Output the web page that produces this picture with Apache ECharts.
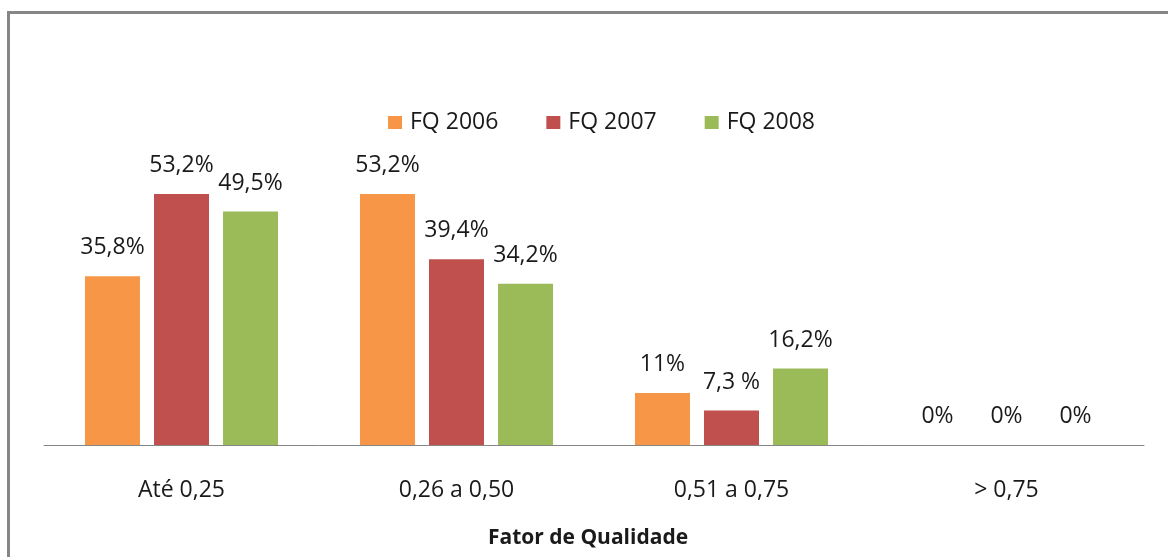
<!DOCTYPE html>
<html>
<head>
<meta charset="utf-8">
<style>
    html, body { margin: 0; padding: 0; background: #fff; }
    #chart { width: 1168px; height: 557px; }
</style>
<script src="https://cdn.jsdelivr.net/npm/echarts@6/dist/echarts.min.js"></script>
</head>
<body>
<div id="chart"></div>
<script>
// dados do gráfico
const categorias = ["Até 0,25", "0,26 a 0,50", "0,51 a 0,75", "> 0,75"];
const fq2006 = [35.8, 53.2, 11, 0];
const fq2007 = [53.2, 39.4, 7.3, 0];
const fq2008 = [49.5, 34.2, 16.2, 0];
// rótulos como aparecem no original
const rotulos2006 = ["35,8%", "53,2%", "11%", "0%"];
const rotulos2007 = ["53,2%", "39,4%", "7,3 %", "0%"];
const rotulos2008 = ["49,5%", "34,2%", "16,2%", "0%"];

const fonte = "'Open Sans', sans-serif";

function serie(nome, valores, rotulos, cor) {
    return {
        name: nome,
        type: "bar",
        barWidth: 55,
        barGap: "25.5%",
        data: valores,
        itemStyle: { color: cor },
        label: {
            show: true,
            position: "top",
            distance: 17,
            fontFamily: fonte,
            fontSize: 23,
            color: "#1a1a1a",
            formatter: function (p) {
                return rotulos[p.dataIndex];
            },
        },
    };
}

const chart = echarts.init(document.getElementById("chart"));
chart.setOption({
    animation: false,
    // moldura cinza
    graphic: [
        {
            type: "rect",
            shape: { x: 8.5, y: 12.5, width: 1200, height: 600 },
            style: { fill: "none", stroke: "#868686", lineWidth: 3 },
            silent: true,
        },
    ],
    legend: {
        left: 383,
        top: 106,
        itemWidth: 14,
        itemHeight: 13,
        itemGap: 48,
        icon: "rect",
        textStyle: { fontFamily: fonte, fontSize: 23, color: "#1a1a1a", padding: [0, 0, 0, 3] },
        data: ["FQ 2006", "FQ 2007", "FQ 2008"],
    },
    grid: {
        left: 44,
        right: 24,
        top: 162,
        bottom: 112,
    },
    xAxis: {
        type: "category",
        data: categorias,
        name: "Fator de Qualidade",
        nameLocation: "middle",
        nameGap: 83,
        nameTextStyle: {
            fontFamily: fonte,
            fontSize: 21,
            fontWeight: "bold",
            color: "#1a1a1a",
            padding: [0, 12, 0, 0],
        },
        axisLine: { lineStyle: { color: "#868686", width: 1 } },
        axisTick: { show: false },
        axisLabel: { margin: 34, fontFamily: fonte, fontSize: 23, color: "#1a1a1a" },
    },
    yAxis: {
        type: "value",
        min: 0,
        max: 60,
        show: false,
        splitLine: { show: false },
    },
    series: [
        serie("FQ 2006", fq2006, rotulos2006, "#F79646"),
        serie("FQ 2007", fq2007, rotulos2007, "#C0504D"),
        serie("FQ 2008", fq2008, rotulos2008, "#9BBB59"),
    ],
});
</script>
</body>
</html>
